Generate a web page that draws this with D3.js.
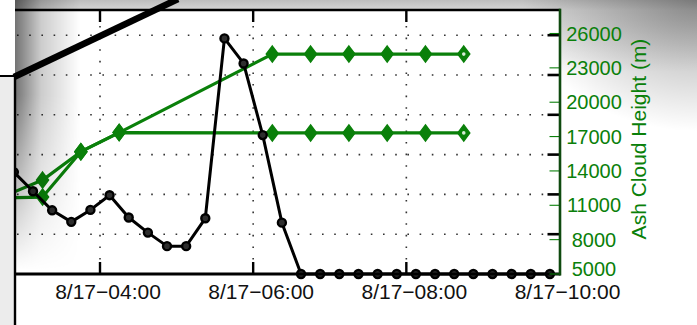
<!DOCTYPE html>
<html>
<head>
<meta charset="utf-8">
<script src="https://cdn.jsdelivr.net/npm/d3@7"></script>
<style>
  html, body { margin: 0; padding: 0; background: #fff; }
  svg { display: block; }
  text { font-family: "Liberation Sans", Arial, Helvetica, sans-serif; }
</style>
</head>
<body>
<svg id="chart" width="697" height="325"></svg>
<script>
// ---- data ----
const xTickLabels = ["8/17 04:00", "8/17 06:00", "8/17 08:00", "8/17 10:00"];

// black series, 15-minute samples (left axis)
const seriesTimes = [
  "8/17 02:52:30", "8/17 03:07:30", "8/17 03:22:30", "8/17 03:37:30", "8/17 03:52:30",
  "8/17 04:07:30", "8/17 04:22:30", "8/17 04:37:30", "8/17 04:52:30", "8/17 05:07:30",
  "8/17 05:22:30", "8/17 05:37:30", "8/17 05:52:30", "8/17 06:07:30", "8/17 06:22:30",
  "8/17 06:37:30", "8/17 06:52:30", "8/17 07:07:30", "8/17 07:22:30", "8/17 07:37:30",
  "8/17 07:52:30", "8/17 08:07:30", "8/17 08:22:30", "8/17 08:37:30", "8/17 08:52:30",
  "8/17 09:07:30", "8/17 09:22:30", "8/17 09:37:30", "8/17 09:52:30"
];
const seriesValues = [
  2.56, 2.08, 1.60, 1.31, 1.61,
  1.98, 1.42, 1.04, 0.70, 0.70,
  1.40, 5.92, 5.29, 3.49, 1.29,
  0, 0, 0, 0, 0,
  0, 0, 0, 0, 0,
  0, 0, 0, 0
];
const leftGridTicks = [1, 2, 3, 4, 5, 6];

// ash cloud heights (m), right axis
const ashTimes = [
  "8/17 02:45", "8/17 03:15", "8/17 03:45", "8/17 04:15", "8/17 06:15",
  "8/17 06:45", "8/17 07:15", "8/17 07:45", "8/17 08:15", "8/17 08:45"
];
const ashHeightUpper = [11800, 13200, 15680, 17350, 24200, 24200, 24200, 24200, 24200, 24200];
const ashHeightLower = [11650, 11720, 15680, 17350, 17320, 17320, 17320, 17320, 17320, 17320];
const rightTicks = [5000, 8000, 11000, 14000, 17000, 20000, 23000, 26000];

// ---- setup ----
const parseMin = d3.timeParse("%m/%d %H:%M");
const parseSec = d3.timeParse("%m/%d %H:%M:%S");
const fmtTick = d3.timeFormat("%-m/%d\u2212%H:%M");

const svg = d3.select("#chart");
const W = 697, H = 325;
const plotL = 15, plotR = 559.5, plotT = 10, plotB = 274;

const x = d3.scaleTime()
  .domain([parseMin("8/17 04:00"), parseMin("8/17 10:00")])
  .range([100, plotR]);
const yLeft = d3.scaleLinear().domain([0, 6]).range([plotB, 35.2]);
const yRight = d3.scaleLinear().domain([5000, 26000]).range([plotB, 33.5]);

const GREEN = "#0a800a";

// ---- gradients ----
const defs = svg.append("defs");
const topGrad = defs.append("linearGradient").attr("id", "topGrad")
  .attr("x1", 0).attr("y1", 0).attr("x2", 0).attr("y2", 1);
topGrad.append("stop").attr("offset", 0).attr("stop-color", "#bdbdbd");
topGrad.append("stop").attr("offset", 0.14).attr("stop-color", "#d6d6d6");
topGrad.append("stop").attr("offset", 1).attr("stop-color", "#ffffff");

const cornerGrad = defs.append("radialGradient").attr("id", "cornerGrad")
  .attr("gradientUnits", "userSpaceOnUse")
  .attr("cx", W).attr("cy", 0).attr("r", 175)
  .attr("gradientTransform", `translate(${W},0) scale(1,0.75) translate(${-W},0)`);
cornerGrad.append("stop").attr("offset", 0).attr("stop-color", "#000").attr("stop-opacity", 0.36);
cornerGrad.append("stop").attr("offset", 1).attr("stop-color", "#000").attr("stop-opacity", 0);

const shadeX = defs.append("linearGradient").attr("id", "shadeX")
  .attr("gradientUnits", "userSpaceOnUse")
  .attr("x1", plotL).attr("y1", 0).attr("x2", 80).attr("y2", 0);
shadeX.append("stop").attr("offset", 0).attr("stop-color", "#000").attr("stop-opacity", 0.55);
shadeX.append("stop").attr("offset", 0.4).attr("stop-color", "#000").attr("stop-opacity", 0.2);
shadeX.append("stop").attr("offset", 1).attr("stop-color", "#000").attr("stop-opacity", 0);

const fadeY = defs.append("linearGradient").attr("id", "fadeY")
  .attr("gradientUnits", "userSpaceOnUse")
  .attr("x1", 0).attr("y1", 0).attr("x2", 0).attr("y2", 270);
fadeY.append("stop").attr("offset", 0).attr("stop-color", "#fff");
fadeY.append("stop").attr("offset", 0.35).attr("stop-color", "#fff");
fadeY.append("stop").attr("offset", 1).attr("stop-color", "#000");
defs.append("mask").attr("id", "fadeMask")
  .append("rect").attr("x", 0).attr("y", 0).attr("width", W).attr("height", H)
  .attr("fill", "url(#fadeY)");

// ---- backdrop ----
svg.append("rect").attr("width", W).attr("height", H).attr("fill", "#fff");
svg.append("rect").attr("x", plotL).attr("y", 0).attr("width", W - plotL).attr("height", 72)
  .attr("fill", "url(#topGrad)");
svg.append("rect").attr("x", plotL).attr("y", 0).attr("width", W - plotL).attr("height", 170)
  .attr("fill", "url(#cornerGrad)");
svg.append("rect").attr("x", plotL).attr("y", plotT).attr("width", plotR - plotL).attr("height", plotB - plotT)
  .attr("fill", "#fff");

// ---- dotted grid ----
const grid = svg.append("g");
grid.selectAll(".hg").data(leftGridTicks).join("line")
  .attr("x1", plotL + 2).attr("x2", plotR - 12)
  .attr("y1", d => yLeft(d)).attr("y2", d => yLeft(d))
  .attr("stroke", "#333").attr("stroke-width", 1.6).attr("stroke-dasharray", "1.6 10.6");
const tickDates = xTickLabels.map(parseMin);
grid.selectAll(".vg").data(tickDates.slice(0, 3)).join("line")
  .attr("x1", d => x(d)).attr("x2", d => x(d))
  .attr("y1", plotT + 14).attr("y2", plotB - 12)
  .attr("stroke", "#333").attr("stroke-width", 1.6).attr("stroke-dasharray", "1.6 10")
  .attr("stroke-dashoffset", -2);

// ---- ash cloud height lines (green, diamonds) ----
const ashT = ashTimes.map(parseMin);
const greenLine = d3.line().x(d => x(d.t)).y(d => yRight(d.v));
const diamond = "M0,-8 L6,0 L0,8 L-6,0 Z";
[ashHeightUpper, ashHeightLower].forEach(vals => {
  const pts = vals.map((v, i) => ({ t: ashT[i], v }));
  svg.append("path").datum(pts).attr("d", greenLine)
    .attr("fill", "none").attr("stroke", GREEN).attr("stroke-width", 3.2)
    .attr("stroke-linejoin", "round");
  const g = svg.append("g");
  g.selectAll("path").data(pts).join("path")
    .attr("transform", d => `translate(${x(d.t)},${yRight(d.v)})`)
    .attr("d", diamond)
    .attr("fill", GREEN).attr("stroke", GREEN).attr("stroke-width", 1.5);
  // the latest report is marked with a pale centre
  const last = pts[pts.length - 1];
  g.append("circle").attr("cx", x(last.t)).attr("cy", yRight(last.v)).attr("r", 1.8)
    .attr("fill", "#d6ecd6");
});

// ---- black series ----
const sT = seriesTimes.map(parseSec);
const sPts = seriesValues.map((v, i) => ({ t: sT[i], v }));
svg.append("path").datum(sPts)
  .attr("d", d3.line().x(d => x(d.t)).y(d => yLeft(d.v)))
  .attr("fill", "none").attr("stroke", "#000").attr("stroke-width", 3)
  .attr("stroke-linejoin", "round");
svg.append("g").selectAll("circle").data(sPts).join("circle")
  .attr("cx", d => x(d.t)).attr("cy", d => yLeft(d.v)).attr("r", 4)
  .attr("fill", "#2e2e2e").attr("stroke", "#000").attr("stroke-width", 2.4);

// ---- axes ----
const xAxisBottom = d3.axisBottom(x).tickValues(tickDates).tickSize(0).tickFormat("");
svg.append("g").attr("transform", `translate(0,${plotB})`).call(xAxisBottom)
  .call(g => g.select(".domain").remove());

// frame lines
svg.append("line").attr("x1", plotL).attr("x2", plotR + 1).attr("y1", plotT).attr("y2", plotT)
  .attr("stroke", "#000").attr("stroke-width", 2.6);
svg.append("line").attr("x1", plotL).attr("x2", plotR + 1).attr("y1", plotB).attr("y2", plotB)
  .attr("stroke", "#000").attr("stroke-width", 2.8);

// x ticks at bottom and top
svg.append("g").selectAll("line").data(tickDates.slice(0, 3)).join("line")
  .attr("x1", d => x(d)).attr("x2", d => x(d)).attr("y1", plotB).attr("y2", plotB - 12)
  .attr("stroke", "#000").attr("stroke-width", 2.4);
svg.append("g").selectAll("line").data(tickDates.slice(0, 3)).join("line")
  .attr("x1", d => x(d)).attr("x2", d => x(d)).attr("y1", plotT).attr("y2", plotT + 12)
  .attr("stroke", "#000").attr("stroke-width", 2.4);

// x tick labels
svg.append("g").selectAll("text").data(tickDates).join("text")
  .attr("x", d => x(d) + 8).attr("y", 299)
  .attr("text-anchor", "middle").attr("font-size", 21).attr("fill", "#111")
  .text(d => fmtTick(d));

// black left-axis ticks mirrored on right edge
svg.append("g").selectAll("line").data(leftGridTicks).join("line")
  .attr("x1", plotR - 12).attr("x2", plotR).attr("y1", d => yLeft(d)).attr("y2", d => yLeft(d))
  .attr("stroke", "#000").attr("stroke-width", 2.6);

// right green axis
const yAxisRight = d3.axisRight(yRight).tickValues(rightTicks).tickSize(0).tickFormat("");
svg.append("g").attr("transform", `translate(${plotR},0)`).call(yAxisRight)
  .call(g => g.select(".domain").remove());
svg.append("g").selectAll("line").data(rightTicks).join("line")
  .attr("x1", plotR - 10).attr("x2", plotR).attr("y1", d => yRight(d)).attr("y2", d => yRight(d))
  .attr("stroke", GREEN).attr("stroke-width", 1.1);
svg.append("line").attr("x1", plotR + 0.5).attr("x2", plotR + 0.5).attr("y1", plotT - 1.3).attr("y2", plotB + 1.4)
  .attr("stroke", "#0f4a0f").attr("stroke-width", 2.6);
svg.append("g").selectAll("text").data(rightTicks).join("text")
  .attr("x", 594).attr("y", d => yRight(d) + (d === rightTicks[0] ? 1.5 : 7.2))
  .attr("text-anchor", "middle").attr("font-size", 20).attr("fill", GREEN)
  .text(d => d);
svg.append("text")
  .attr("transform", "translate(646,139) rotate(-90)")
  .attr("text-anchor", "middle").attr("font-size", 21).attr("fill", GREEN)
  .text("Ash Cloud Height (m)");

// ---- overlay: shadow, side panel and pointer line ----
svg.append("rect").attr("x", plotL).attr("y", 0).attr("width", 70).attr("height", plotB)
  .attr("fill", "url(#shadeX)").attr("mask", "url(#fadeMask)");
svg.append("rect").attr("x", 0).attr("y", 76).attr("width", plotL).attr("height", H - 76)
  .attr("fill", "#ececec");
svg.append("line").attr("x1", 0).attr("x2", plotL + 1).attr("y1", 76).attr("y2", 76)
  .attr("stroke", "#000").attr("stroke-width", 2);
svg.append("line").attr("x1", plotL).attr("x2", plotL).attr("y1", 76).attr("y2", H)
  .attr("stroke", "#000").attr("stroke-width", 2.4);
svg.append("line").attr("x1", plotL - 1).attr("y1", 77).attr("x2", 178).attr("y2", -1)
  .attr("stroke", "#000").attr("stroke-width", 6.5);
</script>
</body>
</html>
